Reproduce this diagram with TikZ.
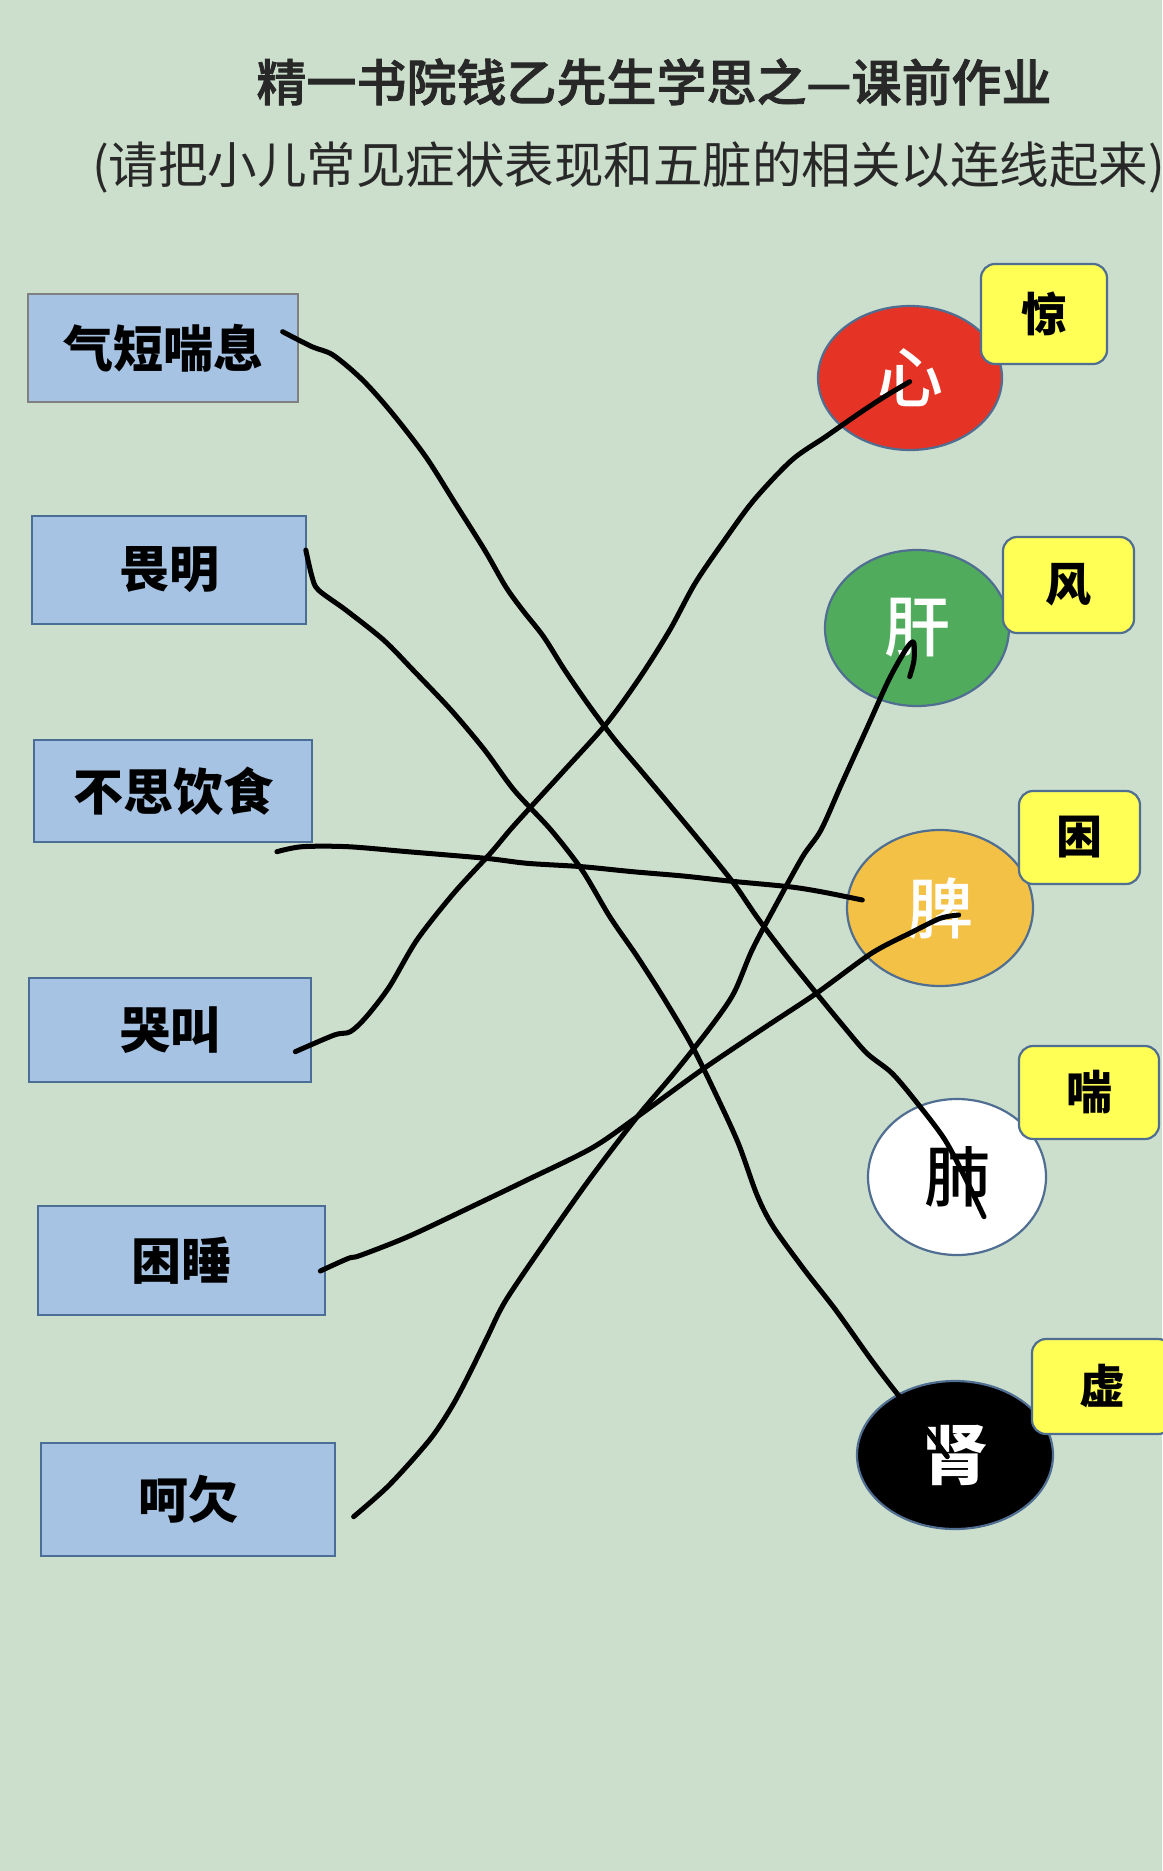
\documentclass[tikz,border=0pt]{standalone}
\usepackage{fontspec}
\setmainfont{Noto Sans CJK SC}
\newfontfamily\medfont{Noto Sans CJK SC Medium}
\newfontfamily\semifont[FakeBold=1.6]{Noto Sans CJK SC Medium}
\usetikzlibrary{shapes.geometric}
\definecolor{bg}{RGB}{204,223,204}
\definecolor{boxfill}{RGB}{166,195,227}
\definecolor{boxline}{RGB}{74,110,150}
\definecolor{greyline}{RGB}{128,128,128}
\definecolor{yel}{RGB}{255,255,85}
\definecolor{ellline}{RGB}{80,110,145}
\definecolor{heart}{RGB}{229,51,38}
\definecolor{liver}{RGB}{80,172,92}
\definecolor{spleen}{RGB}{243,193,69}
\definecolor{titlecol}{RGB}{40,40,40}
\tikzset{
  symbox/.style={draw=boxline, line width=2.2pt, fill=boxfill, inner sep=0pt,
    font=\fontsize{50}{50}\selectfont\bfseries, text=black},
  organ/.style={ellipse, draw=ellline, line width=2.2pt, inner sep=0pt,
    font=\fontsize{66}{66}\selectfont\medfont},
  tagbox/.style={draw=ellline, line width=2.2pt, fill=yel, rounded corners=14pt,
    inner sep=0pt, font=\fontsize{46}{46}\selectfont\bfseries, text=black},
  link/.style={draw=black, line width=5pt, line cap=round, line join=round},
}
\begin{document}
\begin{tikzpicture}[x=1pt,y=-1pt]
\fill[bg] (0,0) rectangle (1162,1871);
\useasboundingbox (0,0) rectangle (1162,1871);

% titles
\node[inner sep=0pt, text=titlecol, font=\fontsize{50}{50}\selectfont\semifont] (t1) at (654,82) {精一书院钱乙先生学思之—课前作业};
\node[inner sep=0pt, anchor=west, text=titlecol, font=\fontsize{49.5}{50}\selectfont] (t2) at (92,167) {(请把小儿常见症状表现和五脏的相关以连线起来)};

% symptom boxes
\node[symbox, draw=greyline, minimum width=270, minimum height=108] (s1) at (163,348) {气短喘息};
\node[symbox, minimum width=274, minimum height=108] (s2) at (169,570) {畏明};
\node[symbox, minimum width=278, minimum height=102] (s3) at (173,791) {不思饮食};
\node[symbox, minimum width=282, minimum height=104] (s4) at (170,1030) {哭叫};
\node[symbox, minimum width=287, minimum height=109] (s5) at (181.5,1260.5) {困睡};
\node[symbox, minimum width=294, minimum height=113] (s6) at (188,1499.5) {呵欠};

% organs
\node[organ, fill=heart, text=white, minimum width=184, minimum height=144] (o1) at (910,378) {心};
\node[organ, fill=liver, text=white, minimum width=184, minimum height=156] (o2) at (917,628) {肝};
\node[organ, fill=spleen, text=white, minimum width=186, minimum height=156] (o3) at (940,908) {脾};
\node[organ, fill=white, text=black, minimum width=178, minimum height=156] (o4) at (957,1177) {肺};
\node[organ, fill=black, text=white, minimum width=196, minimum height=148, font=\fontsize{66}{66}\selectfont\bfseries] (o5) at (955,1455) {肾};

% tags
\node[tagbox, minimum width=126, minimum height=100] (g1) at (1044,314) {惊};
\node[tagbox, minimum width=131, minimum height=96] (g2) at (1068.5,585) {风};
\node[tagbox, minimum width=121, minimum height=93] (g3) at (1079.5,837.5) {困};
\node[tagbox, minimum width=140, minimum height=93] (g4) at (1089,1092.5) {喘};
\node[tagbox, minimum width=140, minimum height=95] (g5) at (1102,1386.5) {虚};

% connector end points
\coordinate (a1s) at (282.6,331.7); \coordinate (a1e) at (984,1216.7);
\coordinate (a2s) at (305.8,550);   \coordinate (a2e) at (947.3,1456.7);
\coordinate (a3s) at (276.9,851.7); \coordinate (a3e) at (862.3,900);
\coordinate (a4s) at (295.3,1051.7);\coordinate (a4e) at (909.7,381.7);
\coordinate (a5s) at (320.3,1271);  \coordinate (a5e) at (958.7,915);
\coordinate (a6s) at (353.6,1516.7);\coordinate (a6e) at (909.7,676.7);

% hand-drawn connectors
\draw[link] plot[smooth, tension=0.5] coordinates {(a1s) (312,346.7) (333,355) (362.6,380) (392,413) (425.7,456.7) (455.2,503.3) (484.6,550) (505.7,586.7) (522.5,610) (543.6,636.7) (564.6,670) (589.9,706.7) (615,740) (640.4,770) (665.6,800) (701.6,843.3) (733.7,883.3) (756.7,916.7) (784.2,953.3) (816.4,993.3) (843.9,1026.7) (866.9,1053.3) (892.1,1073.3) (917.4,1103.3) (945,1140) (967.9,1183.3) (a1e)};
\draw[link] plot[smooth, tension=0.5] coordinates {(a2s) (312,576.7) (318.4,590) (345.8,610) (383.6,640) (413,670) (451,710) (484.6,750) (514,790) (551,830) (582,870) (609.8,916.7) (637.3,956.7) (664.9,1000) (692.4,1046.7) (715.4,1093.3) (738.3,1143.3) (757,1195) (773.2,1226.7) (804.5,1270) (835.7,1310) (871.4,1360) (898.2,1395) (929.5,1433.3) (a2e)};
\draw[link] plot[smooth, tension=0.5] coordinates {(a3s) (302.1,846.7) (348,846.7) (407.7,851.7) (485.8,858.3) (527.1,863.3) (582.2,866.7) (632.7,871.7) (683.2,876) (729.1,881) (788.8,886.7) (821,891.7) (a3e)};
\draw[link] plot[smooth, tension=0.5] coordinates {(a4s) (334.3,1035) (350.3,1031.7) (366.4,1016.7) (389.4,986.7) (416.9,940) (453.7,893.3) (490.4,853.3) (510,830) (531,806.7) (564.6,770) (606.7,723.3) (640.4,676.7) (669.8,630) (695.1,583.3) (724.6,540) (754,500) (791.9,460) (825.6,436.7) (859.2,413.3) (884.5,396.7) (a4e)};
\draw[link] plot[smooth, tension=0.5] coordinates {(a5s) (348.5,1258.3) (360,1255.5) (409.5,1236) (478.6,1203.3) (527,1180) (591.4,1148.3) (637.3,1116.7) (701.6,1070) (765.9,1026.7) (816.4,993.3) (871.5,953.3) (912.8,931.7) (940.3,918.3) (a5e)};
\draw[link] plot[smooth, tension=0.5] coordinates {(a6s) (389.3,1485) (429.5,1440) (451.8,1406.7) (469.6,1373.3) (487.5,1336.7) (506,1300) (548,1238) (591.4,1176.7) (637.3,1116.7) (674,1073.3) (710.8,1026.7) (733.7,993.3) (752.1,950) (775,906.7) (802.6,856.7) (821,830) (842,783) (867.6,726.7) (888.7,680) (905.5,650) (913.5,642) (914,660) (a6e)};
\end{tikzpicture}
\end{document}
